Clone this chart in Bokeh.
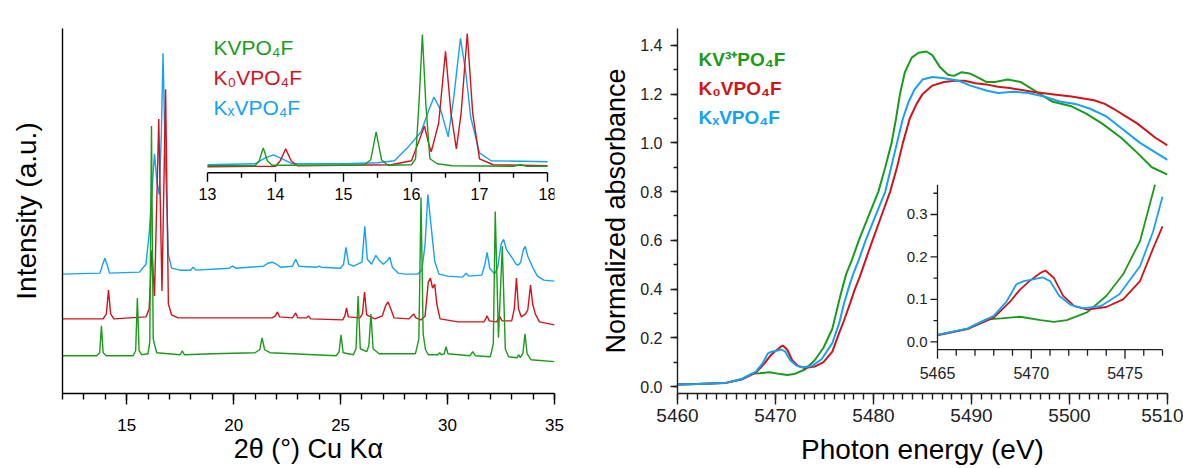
import numpy as np
from bokeh.plotting import figure
from bokeh.layouts import row
from bokeh.models import Range1d, SingleIntervalTicker, FixedTicker, Label, PrintfTickFormatter
from bokeh.core.properties import value
from bokeh.embed import file_html
from bokeh.resources import INLINE

FONT = "Liberation Sans"
GREEN = "#1a9b1a"
RED = "#d2141a"
BLUE = "#14a2f4"
AXC = "#1e1e1e"

# ------------------------------------------------------------------ panel a data (XRD, a.u., offset traces)
xrd_green_x = [12.0, 13.6, 13.74, 13.82, 13.9, 14.05, 15.3, 15.42, 15.5, 15.58, 15.7, 16.0, 16.08, 16.16, 16.24, 16.4,
               17.5, 17.6, 17.7, 19.0, 21.0, 21.22, 21.33, 21.45, 21.7, 24.8, 24.93, 25.02, 25.12, 25.6, 25.72, 25.82,
               25.92, 26.22, 26.32, 26.42, 26.52, 26.8, 28.5, 28.66, 28.76, 28.86, 28.97, 29.1, 29.55, 29.63, 29.72,
               29.85, 29.93, 30.02, 31.05, 31.18, 31.3, 32.0, 32.14, 32.23, 32.38, 32.56, 32.7, 32.85, 33.25, 33.32,
               33.4, 33.52, 33.62, 33.72, 33.9, 35.0]
xrd_green_y = [38, 38, 41, 68, 41, 38, 38, 43, 96, 43, 39, 40, 52, 269, 55, 41,
               39, 43, 39, 40, 41, 44, 56, 44, 41, 38, 42, 59, 41, 39, 45, 98,
               45, 42, 48, 80, 45, 40, 40, 55, 197, 60, 44, 39, 39, 41, 39,
               40, 47, 40, 38, 42, 38, 37, 50, 183, 56, 148, 45, 37, 36, 39,
               36, 40, 60, 40, 34, 32]

xrd_red_x = [12.0, 13.9, 14.05, 14.15, 14.25, 14.4, 15.9, 16.05, 16.18, 16.3, 16.5, 16.65, 16.82, 16.95, 17.1, 17.4,
             21.8, 21.95, 22.05, 22.15, 22.75, 22.9, 23.0, 23.4, 23.5, 23.6, 25.1, 25.2, 25.28, 25.36, 25.9, 26.02,
             26.12, 26.22, 26.6, 26.95, 27.1, 27.22, 27.35, 27.5, 28.2, 28.32, 28.42, 28.52, 28.75, 28.95, 29.1,
             29.2, 29.3, 29.4, 29.5, 29.65, 30.5, 31.7, 31.78, 31.85, 31.95, 32.3, 32.42, 32.55, 33.0, 33.12, 33.22,
             33.32, 33.45, 33.65, 33.75, 33.88, 33.98, 34.1, 34.3, 35.0]
xrd_red_y = [75, 75, 80, 104, 80, 75, 77, 85, 144, 98, 276, 103, 306, 90, 79, 76,
             76, 78, 82, 77, 76, 81, 76, 76, 78, 75, 74, 78, 86, 77, 76, 80,
             102, 79, 75, 78, 88, 92, 85, 76, 75, 78, 80, 76, 74, 78, 112,
             116, 106, 110, 90, 75, 72, 72, 75, 78, 73, 72, 78, 73, 73, 85, 116,
             85, 77, 80, 84, 109, 90, 80, 72, 69]

xrd_blue_x = [12.0, 13.75, 13.88, 13.98, 14.08, 14.2, 15.6, 15.9, 16.05, 16.2, 16.3, 16.42, 16.52, 16.62, 16.7, 16.8,
              16.95, 17.1, 17.5, 18.0, 18.1, 18.25, 19.8, 19.95, 20.1, 21.4, 21.6, 21.8, 22.0, 22.2, 22.75, 22.9,
              23.05, 23.9, 24.0, 24.1, 25.0, 25.14, 25.25, 25.38, 25.6, 26.0, 26.13, 26.25, 26.45, 26.65, 26.8,
              27.0, 27.2, 27.3, 27.42, 27.7, 28.0, 28.3, 28.6, 28.8, 28.95, 29.08, 29.2, 29.4, 29.6, 30.0, 30.7,
              30.87, 31.0, 31.6, 31.75, 31.85, 31.97, 32.2, 32.35, 32.5, 32.62, 32.75, 33.0, 33.2, 33.3, 33.42,
              33.55, 33.63, 33.75, 34.0, 34.2, 34.5, 35.0]
xrd_blue_y = [120, 121, 130, 136, 130, 121, 122, 130, 160, 210, 241, 212, 200, 260, 342, 240,
              140, 126, 124, 124, 127, 124, 126, 128, 126, 128, 131, 132, 130, 127, 128, 135,
              128, 127, 128, 127, 126, 130, 147, 130, 128, 132, 168, 135, 130, 139, 134,
              130, 134, 137, 127, 121, 120, 120, 120, 124, 150, 200, 175, 133, 120, 118, 117,
              121, 118, 119, 130, 142, 126, 120, 127, 150, 155, 145, 137, 130, 129, 132,
              145, 148, 138, 126, 118, 114, 113]

# inset a (13-18 deg)
ins_green_x = [13.0, 13.7, 13.76, 13.82, 13.88, 13.95, 15.3, 15.4, 15.48, 15.56, 15.65, 16.0, 16.06, 16.11, 16.16,
               16.21, 16.27, 16.38, 16.6, 17.5, 17.6, 17.7, 18.0]
ins_green_y = [7, 7, 12, 25, 12, 7.5, 7.5, 13, 41, 13, 7.5, 8, 14, 70, 139, 70, 14, 9, 7, 6.5, 8, 6.5, 6.5]
ins_red_x = [13.0, 14.0, 14.07, 14.15, 14.23, 14.32, 15.7, 16.0, 16.1, 16.19, 16.25, 16.29, 16.4, 16.5, 16.58,
             16.66, 16.73, 16.82, 16.9, 17.0, 17.2, 18.0]
ins_red_y = [6, 6.5, 12, 24, 12, 7, 8, 12, 30, 47, 30, 21, 50, 122, 60, 24, 60, 140, 60, 14, 8, 7]
ins_blue_x = [13.0, 13.7, 13.85, 13.97, 14.1, 14.25, 15.0, 15.5, 15.75, 15.94, 16.14, 16.25, 16.33, 16.43, 16.54,
              16.62, 16.72, 16.8, 16.87, 17.0, 17.17, 18.0]
ins_blue_y = [8, 9, 15, 18, 14, 9, 9, 10, 12, 25, 41, 62, 76, 63, 36, 75, 135, 100, 56, 20, 12, 11]

inset_a_major = [13, 14, 15, 16, 17, 18]
inset_a_minor = [13.5, 14.5, 15.5, 16.5, 17.5]
inset_a_labels = ["13", "14", "15", "16", "17", "18"]

# ------------------------------------------------------------------ panel b data (XANES)
e_green = [5460, 5462, 5464, 5465, 5466.6, 5467.6, 5468.4, 5469.4, 5470.5, 5471.2, 5471.9, 5473.0, 5474.0, 5474.9,
           5475.8, 5476.6, 5477.2, 5477.8, 5478.5, 5479.5, 5480.5, 5481.2, 5481.85, 5482.3, 5482.7, 5483.2, 5483.9,
           5484.6, 5485.4, 5486.0, 5486.8, 5487.6, 5488.2, 5489.0, 5489.8, 5490.6, 5491.5, 5492.4, 5493.7, 5495.0,
           5496.6, 5498.2, 5500.2, 5501.7, 5503.3, 5505.3, 5506.9, 5508.4, 5510]
a_green = [0.008, 0.010, 0.013, 0.016, 0.031, 0.053, 0.055, 0.059, 0.051, 0.047, 0.051, 0.070, 0.108, 0.159,
           0.237, 0.370, 0.46, 0.52, 0.60, 0.70, 0.80, 0.90, 1.00, 1.10, 1.20, 1.29, 1.35,
           1.37, 1.375, 1.36, 1.31, 1.28, 1.275, 1.29, 1.285, 1.27, 1.25, 1.25, 1.26, 1.25,
           1.21, 1.17, 1.15, 1.12, 1.08, 1.02, 0.96, 0.90, 0.87]

e_red = [5460, 5462, 5464, 5465, 5466.6, 5468.0, 5468.9, 5469.4, 5469.9, 5470.5, 5470.75, 5471.2, 5471.7, 5472.3,
         5473.0, 5474.0, 5474.9, 5475.8, 5476.5, 5477.0, 5477.6, 5478.1, 5478.6, 5479.2, 5479.9, 5480.8, 5481.7,
         5482.4, 5483.0, 5483.7, 5484.4, 5485.0, 5486.0, 5487.2, 5488.3, 5489.3, 5490.4, 5491.5, 5492.7, 5493.9,
         5496.2, 5498.2, 5500.2, 5502.5, 5503.6, 5504.5, 5505.7, 5506.9, 5508.8, 5510]
a_red = [0.008, 0.010, 0.013, 0.015, 0.030, 0.057, 0.096, 0.123, 0.143, 0.1625, 0.168, 0.151, 0.108, 0.084,
         0.076, 0.082, 0.100, 0.143, 0.220, 0.272, 0.34, 0.40, 0.45, 0.52, 0.60, 0.70, 0.80,
         0.90, 1.00, 1.10, 1.16, 1.20, 1.235, 1.25, 1.255, 1.255, 1.245, 1.24, 1.23, 1.225,
         1.21, 1.20, 1.19, 1.175, 1.16, 1.14, 1.11, 1.08, 1.02, 0.99]

e_blue = [5460, 5462, 5464, 5465, 5466.6, 5468.0, 5468.7, 5469.2, 5469.6, 5470.1, 5470.6, 5471.0, 5471.5, 5472.1,
          5472.8, 5473.7, 5474.7, 5475.8, 5476.5, 5477.0, 5477.5, 5478.0, 5478.5, 5479.2, 5480.2, 5481.2, 5481.8,
          5482.4, 5483.0, 5483.6, 5484.2, 5485.0, 5486.0, 5487.2, 5488.7, 5489.9, 5491.5, 5492.7, 5494.3, 5495.8,
          5497.4, 5499.0, 5500.6, 5502.1, 5503.7, 5505.3, 5507.2, 5510]
a_blue = [0.008, 0.010, 0.013, 0.016, 0.031, 0.061, 0.096, 0.135, 0.143, 0.147, 0.152, 0.143, 0.108, 0.087,
          0.079, 0.084, 0.112, 0.178, 0.260, 0.342, 0.41, 0.47, 0.52, 0.60, 0.70, 0.80, 0.90,
          1.00, 1.10, 1.17, 1.22, 1.26, 1.27, 1.265, 1.255, 1.235, 1.215, 1.205, 1.21, 1.205,
          1.19, 1.17, 1.16, 1.14, 1.11, 1.06, 1.00, 0.93]

inset_b_xmajor = [5465, 5470, 5475]
inset_b_xminor = [5466, 5467, 5468, 5469, 5471, 5472, 5473, 5474, 5476, 5477]
inset_b_xlabels = ["5465", "5470", "5475"]
inset_b_ymajor = [0.0, 0.1, 0.2, 0.3]
inset_b_yminor = [0.05, 0.15, 0.25, 0.35]
inset_b_ylabels = ["0.0", "0.1", "0.2", "0.3"]

# page geometry (figures start at page 0,0)
PAGE_H = 468
SPLIT = 593
PAGE_W = 1183

# ================================================================== panel a
A_L, A_R, A_T, A_B = 62, 554, 28, 395
AX0, AX1 = 12, 35
AY0, AY1 = 0, A_B - A_T


def a_x(px):
    return AX0 + (px - A_L) * (AX1 - AX0) / (A_R - A_L)


def a_y(py):
    return AY0 + (A_B - py) * (AY1 - AY0) / (A_B - A_T)


pa = figure(width=SPLIT, height=PAGE_H, x_range=Range1d(AX0, AX1), y_range=Range1d(AY0, AY1),
            output_backend="svg", toolbar_location=None,
            min_border_left=A_L, min_border_right=SPLIT - A_R, min_border_top=A_T,
            min_border_bottom=PAGE_H - A_B)
pa.outline_line_color = None
pa.grid.visible = False
pa.background_fill_color = "white"
pa.border_fill_color = "white"

xa = pa.xaxis[0]
xa.ticker = SingleIntervalTicker(interval=5, num_minor_ticks=5)
xa.major_tick_out = 11
xa.major_tick_in = 0
xa.minor_tick_out = 6
xa.minor_tick_in = 0
xa.major_label_standoff = 14
xa.axis_label = "2θ (°) Cu Kα"
xa.axis_label_standoff = 0
xa.axis_label_text_font = FONT
xa.axis_label_text_font_size = "27px"
xa.axis_label_text_font_style = "normal"
xa.major_label_text_font = FONT
xa.major_label_text_font_size = "17px"
xa.axis_line_color = "black"
xa.axis_line_width = 1.4
xa.major_tick_line_color = "black"
xa.major_tick_line_width = 1.4
xa.minor_tick_line_color = "black"
xa.minor_tick_line_width = 1.4
xa.major_label_text_color = "black"
xa.axis_label_text_color = "black"

ya = pa.yaxis[0]
ya.ticker = FixedTicker(ticks=[])
ya.major_tick_out = 0
ya.minor_tick_out = 0
ya.major_label_standoff = 0
ya.axis_label = "Intensity (a.u.)"
ya.axis_label_standoff = 21
ya.axis_label_text_font = FONT
ya.axis_label_text_font_size = "28px"
ya.axis_label_text_font_style = "normal"
ya.axis_label_text_color = "black"
ya.axis_line_color = "black"
ya.axis_line_width = 1.4

pa.line(xrd_blue_x, xrd_blue_y, color=BLUE, line_width=1.4)
pa.line(xrd_red_x, xrd_red_y, color=RED, line_width=1.4)
pa.line(xrd_green_x, xrd_green_y, color=GREEN, line_width=1.4)

# inset a: x 13->page 207, 18->page 547, axis line at page y 173
IA_X0, IA_X1, IA_PX0, IA_PX1, IA_PY0 = 13, 18, 207, 547, 173
ia_scale = (IA_PX1 - IA_PX0) / (IA_X1 - IA_X0)
pa.extra_x_ranges = {"ix": Range1d(IA_X0 - (IA_PX0 - A_L) / ia_scale, IA_X1 + (A_R - IA_PX1) / ia_scale)}
pa.extra_y_ranges = {"iy": Range1d(-(A_B - IA_PY0), IA_PY0 - A_T)}
kw_a = dict(x_range_name="ix", y_range_name="iy")

pa.line(ins_blue_x, ins_blue_y, color=BLUE, line_width=1.4, **kw_a)
pa.line(ins_red_x, ins_red_y, color=RED, line_width=1.4, **kw_a)
pa.line(ins_green_x, ins_green_y, color=GREEN, line_width=1.4, **kw_a)

pa.line([IA_X0, IA_X1], [0, 0], color="black", line_width=1.4, **kw_a)
pa.ray(x=inset_a_major, y=[0] * len(inset_a_major), length=9, angle=-np.pi / 2, length_units="screen",
       color="black", line_width=1.4, **kw_a)
pa.ray(x=inset_a_minor, y=[0] * len(inset_a_minor), length=5, angle=-np.pi / 2, length_units="screen",
       color="black", line_width=1.4, **kw_a)
pa.text(x=inset_a_major, y=[0] * len(inset_a_major), text=inset_a_labels, y_offset=21,
        text_align="center", text_baseline="middle", text_font=value(FONT),
        text_font_size=value("16px"), text_color="black", **kw_a)

for txt, col, py in (("KVPO₄F", GREEN, 47), ("K₀VPO₄F", RED, 77), ("KₓVPO₄F", BLUE, 107)):
    pa.add_layout(Label(x=a_x(213), y=a_y(py), text=txt, text_color=col, text_font=FONT,
                        text_font_size="21px", text_align="left", text_baseline="middle"))
pa.add_layout(Label(x=a_x(11), y=a_y(40), text="a)", text_color="black", text_font=FONT,
                    text_font_size="22px", text_align="left", text_baseline="middle"))

# ================================================================== panel b
B_L, B_R, B_T, B_B = 677, 1167, 26, 393
BX0, BX1 = 5460, 5510
B_PY00, B_PY14 = 386, 43  # page y of 0.0 and 1.4
b_pxu = (B_PY00 - B_PY14) / 1.4
BY0 = (B_PY00 - B_B) / b_pxu
BY1 = (B_PY00 - B_T) / b_pxu


def b_x(px):
    return BX0 + (px - B_L) * (BX1 - BX0) / (B_R - B_L)


def b_y(py):
    return (B_PY00 - py) / b_pxu


pb = figure(width=PAGE_W - SPLIT, height=PAGE_H, x_range=Range1d(BX0, BX1), y_range=Range1d(BY0, BY1),
            output_backend="svg", toolbar_location=None,
            min_border_left=B_L - SPLIT, min_border_right=PAGE_W - B_R, min_border_top=B_T,
            min_border_bottom=PAGE_H - B_B)
pb.outline_line_color = None
pb.grid.visible = False
pb.background_fill_color = "white"
pb.border_fill_color = "white"

xb = pb.xaxis[0]
xb.ticker = SingleIntervalTicker(interval=10, num_minor_ticks=10)
xb.major_tick_out = 11
xb.major_tick_in = 0
xb.minor_tick_out = 6
xb.minor_tick_in = 0
xb.major_label_standoff = 4
xb.axis_label = "Photon energy (eV)"
xb.axis_label_standoff = 9
xb.axis_label_text_font_size = "28px"
xb.major_label_text_font_size = "19px"

yb = pb.yaxis[0]
yb.ticker = SingleIntervalTicker(interval=0.2, num_minor_ticks=2)
yb.formatter = PrintfTickFormatter(format="%.1f")
yb.major_tick_out = 7
yb.major_tick_in = 0
yb.minor_tick_out = 4
yb.minor_tick_in = 0
yb.major_label_standoff = 8
yb.axis_label = "Normalized absorbance"
yb.axis_label_standoff = 6
yb.axis_label_text_font_size = "27px"
yb.major_label_text_font_size = "16px"

for ax in (xb, yb):
    ax.axis_label_text_font = FONT
    ax.axis_label_text_font_style = "normal"
    ax.major_label_text_font = FONT
    ax.axis_line_color = AXC
    ax.axis_line_width = 1.4
    ax.major_tick_line_color = AXC
    ax.major_tick_line_width = 1.4
    ax.minor_tick_line_color = AXC
    ax.minor_tick_line_width = 1.4
    ax.major_label_text_color = "#222222"
    ax.axis_label_text_color = "black"

pb.line(e_green, a_green, color=GREEN, line_width=2)
pb.line(e_red, a_red, color=RED, line_width=2)
pb.line(e_blue, a_blue, color=BLUE, line_width=2)

# inset b: 5465->page 937, 5477->page 1162 ; 0.0->page 341, 0.3->page 213
IB_X0, IB_X1, IB_PX0, IB_PX1 = 5465, 5477, 937, 1162
IB_PY0, IB_PY3 = 341, 213
IB_YBOT, IB_YTOP = -0.0187, 0.37
ibx = (IB_PX1 - IB_PX0) / (IB_X1 - IB_X0)
iby = (IB_PY0 - IB_PY3) / 0.3
pb.extra_x_ranges = {"ix": Range1d(IB_X0 - (IB_PX0 - B_L) / ibx, IB_X1 + (B_R - IB_PX1) / ibx)}
pb.extra_y_ranges = {"iy": Range1d(-(B_B - IB_PY0) / iby, (IB_PY0 - B_T) / iby)}
kw_b = dict(x_range_name="ix", y_range_name="iy")


def inset_part(e, a):
    pts = [(x, y) for x, y in zip(e, a) if IB_X0 <= x <= IB_X1 and y <= IB_YTOP + 1e-9]
    return [p[0] for p in pts], [p[1] for p in pts]


for e, a, col in ((e_green, a_green, GREEN), (e_red, a_red, RED), (e_blue, a_blue, BLUE)):
    xs, ys = inset_part(e, a)
    pb.line(xs, ys, color=col, line_width=1.8, **kw_b)

pb.line([IB_X0, IB_X1], [IB_YBOT, IB_YBOT], color=AXC, line_width=1.3, **kw_b)
pb.line([IB_X0, IB_X0], [IB_YBOT, IB_YTOP], color=AXC, line_width=1.3, **kw_b)
pb.ray(x=inset_b_xmajor, y=[IB_YBOT] * 3, length=9, angle=-np.pi / 2, length_units="screen",
       color=AXC, line_width=1.3, **kw_b)
pb.ray(x=inset_b_xminor, y=[IB_YBOT] * len(inset_b_xminor), length=6, angle=-np.pi / 2,
       length_units="screen", color=AXC, line_width=1.3, **kw_b)
pb.ray(x=[IB_X0] * 4, y=inset_b_ymajor, length=7, angle=np.pi, length_units="screen",
       color=AXC, line_width=1.3, **kw_b)
pb.ray(x=[IB_X0] * 4, y=inset_b_yminor, length=4, angle=np.pi, length_units="screen",
       color=AXC, line_width=1.3, **kw_b)
pb.text(x=inset_b_xmajor, y=[IB_YBOT] * 3, text=inset_b_xlabels, y_offset=23, text_align="center",
        text_baseline="middle", text_font=value(FONT), text_font_size=value("16px"), text_color="#222222", **kw_b)
pb.text(x=[IB_X0] * 4, y=inset_b_ymajor, text=inset_b_ylabels, x_offset=-10, text_align="right",
        text_baseline="middle", text_font=value(FONT), text_font_size=value("15px"), text_color="#222222", **kw_b)

for txt, col, py in (("KV³⁺PO₄F", GREEN, 57), ("K₀VPO₄F", RED, 86), ("KₓVPO₄F", BLUE, 115)):
    pb.add_layout(Label(x=b_x(698), y=b_y(py), text=txt, text_color=col, text_font=FONT,
                        text_font_size="19px", text_font_style="bold", text_align="left",
                        text_baseline="middle"))
pb.add_layout(Label(x=b_x(602), y=b_y(25), text="b)", text_color="black", text_font=FONT,
                    text_font_size="22px", text_align="left", text_baseline="middle"))

layout = row(pa, pb)
open("out.html", "w").write(file_html(layout, INLINE))
